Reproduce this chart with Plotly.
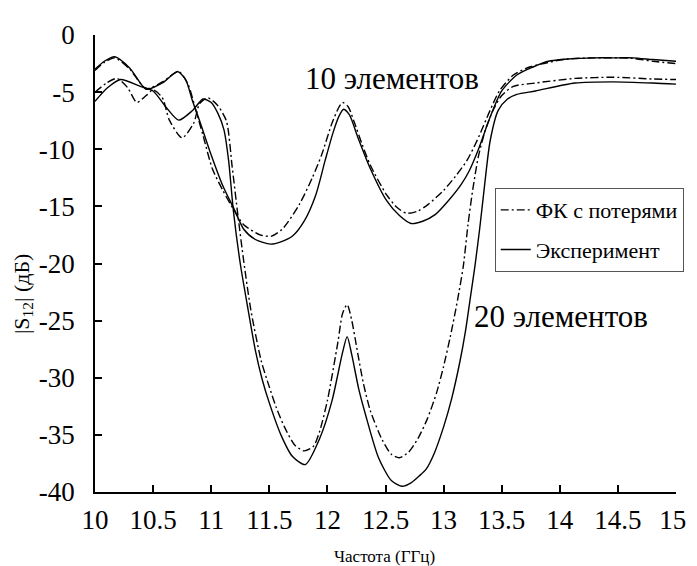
import plotly.graph_objects as go

# ---- data ----
f_d10 = [10.0, 10.08, 10.17, 10.3, 10.44, 10.58, 10.72, 10.8, 10.86, 10.93, 11.01, 11.1, 11.2, 11.28,
         11.42, 11.52, 11.62, 11.76, 11.87, 11.95, 12.04, 12.1, 12.13, 12.18, 12.23, 12.3, 12.37, 12.51,
         12.6, 12.68, 12.78, 12.87, 13.0, 13.1, 13.2, 13.29, 13.4, 13.48, 13.6, 13.74, 13.9, 14.07, 14.3,
         14.5, 14.63, 14.8, 15.0]
db_d10 = [-3.1, -2.4, -2.0, -3.0, -4.7, -4.1, -3.2, -4.3, -6.3, -8.8, -11.7, -13.6, -15.4, -16.6,
          -17.5, -17.6, -16.9, -14.8, -12.5, -10.5, -7.7, -6.3, -5.9, -6.3, -7.6, -9.6, -11.4, -14.0,
          -15.1, -15.6, -15.4, -14.8, -13.6, -12.4, -11.0, -9.2, -6.6, -4.9, -3.5, -2.8, -2.4, -2.1, -2.0,
          -2.0, -2.05, -2.3, -2.5]

f_s10 = [10.0, 10.08, 10.17, 10.3, 10.44, 10.58, 10.71, 10.78, 10.84, 10.9, 11.0, 11.1, 11.2, 11.28,
         11.38, 11.51, 11.6, 11.7, 11.8, 11.9, 11.98, 12.05, 12.1, 12.14, 12.19, 12.26, 12.37, 12.51,
         12.62, 12.72, 12.82, 12.93, 13.05, 13.15, 13.22, 13.3, 13.4, 13.5, 13.63, 13.77, 13.9, 14.07,
         14.3, 14.5, 14.63, 14.8, 15.0]
db_s10 = [-3.0, -2.3, -1.9, -2.9, -4.75, -4.2, -3.2, -3.9, -5.8, -7.5, -10.5, -13.2, -15.3, -17.0,
          -17.9, -18.3, -18.1, -17.6, -16.3, -14.0, -11.0, -8.5, -7.1, -6.5, -7.0, -8.9, -11.7, -14.5,
          -15.8, -16.5, -16.3, -15.7, -14.4, -13.1, -11.9, -10.0, -7.2, -4.9, -3.5, -2.8, -2.3, -2.1,
          -2.0, -2.0, -2.0, -2.15, -2.3]

f_d20 = [10.0, 10.1, 10.19, 10.28, 10.36, 10.44, 10.5, 10.58, 10.64, 10.75, 10.85, 10.9, 10.97, 11.05,
         11.13, 11.18, 11.23, 11.28, 11.34, 11.43, 11.5, 11.56, 11.63, 11.72, 11.8, 11.88, 11.93, 12.0,
         12.09, 12.13, 12.17, 12.21, 12.26, 12.31, 12.37, 12.47, 12.55, 12.62, 12.7, 12.78, 12.86, 12.94,
         13.0, 13.06, 13.12, 13.17, 13.21, 13.25, 13.3, 13.36, 13.43, 13.5, 13.6, 13.79, 14.13, 14.46,
         14.8, 15.0]
db_d20 = [-5.0, -4.2, -3.8, -4.6, -5.9, -5.3, -4.8, -5.5, -7.45, -9.0, -7.7, -6.0, -5.5, -6.1,
          -7.5, -11.5, -15.8, -19.8, -24.0, -28.5, -30.8, -32.6, -34.3, -35.9, -36.4, -36.0, -34.8, -32.0,
          -26.9, -24.4, -23.6, -25.0, -27.8, -30.5, -32.9, -35.4, -36.7, -37.0, -36.5, -35.3, -33.6, -31.3,
          -29.0, -26.3, -23.2, -20.2, -16.6, -13.6, -10.6, -8.3, -6.5, -5.3, -4.5, -4.2, -3.8, -3.7,
          -3.85, -3.9]

f_s20 = [10.0, 10.11, 10.22, 10.39, 10.5, 10.61, 10.72, 10.84, 10.93, 11.0, 11.06, 11.11, 11.15, 11.19,
         11.25, 11.31, 11.38, 11.44, 11.5, 11.6, 11.7, 11.81, 11.93, 12.04, 12.13, 12.17, 12.21, 12.27,
         12.33, 12.44, 12.55, 12.64, 12.72, 12.79, 12.85, 12.92, 13.0, 13.07, 13.14, 13.19, 13.23, 13.27,
         13.31, 13.35, 13.40, 13.47, 13.55, 13.63, 13.79, 14.13, 14.46, 14.8, 15.0]
db_s20 = [-5.8, -4.6, -3.9, -4.5, -4.9, -6.3, -7.45, -6.6, -5.6, -5.9, -6.9, -8.3, -11.0, -15.3,
          -20.0, -23.6, -27.6, -30.2, -32.2, -35.0, -36.9, -37.6, -35.4, -32.0, -27.8, -26.4, -28.0, -31.0,
          -33.3, -37.0, -39.0, -39.5, -39.2, -38.6, -38.0, -36.6, -34.3, -31.8, -28.6, -25.8, -23.0, -20.2,
          -17.0, -13.4, -9.3, -6.6, -5.6, -5.2, -4.9, -4.2, -4.1, -4.2, -4.3]

x_ticks = [10, 10.5, 11, 11.5, 12, 12.5, 13, 13.5, 14, 14.5, 15]
x_ticktext = ["10", "10.5", "11", "11.5", "12", "12.5", "13", "13.5", "14", "14.5", "15\u00a0"]
y_ticks = [0, -5, -10, -15, -20, -25, -30, -35, -40]
y_ticktext = ["0", "-5", "-10", "-15", "-20", "-25", "-30", "-35", "-40"]

name_fk = "ФК с потерями"
name_exp = "Эксперимент"

SERIF = "Liberation Serif, Times New Roman, serif"
DASHDOT = "8px,3px,2px,3px"
LINE_W = 1.4

fig = go.Figure()
fig.add_trace(go.Scatter(x=f_d10, y=db_d10, mode="lines", name=name_fk, legendgroup="fk",
                         line=dict(color="black", width=LINE_W, dash=DASHDOT, shape="spline", smoothing=0.7)))
fig.add_trace(go.Scatter(x=f_s10, y=db_s10, mode="lines", name=name_exp, legendgroup="exp",
                         line=dict(color="black", width=LINE_W, shape="spline", smoothing=0.7)))
fig.add_trace(go.Scatter(x=f_d20, y=db_d20, mode="lines", name=name_fk, legendgroup="fk", showlegend=False,
                         line=dict(color="black", width=LINE_W, dash=DASHDOT, shape="spline", smoothing=0.7)))
fig.add_trace(go.Scatter(x=f_s20, y=db_s20, mode="lines", name=name_exp, legendgroup="exp", showlegend=False,
                         line=dict(color="black", width=LINE_W, shape="spline", smoothing=0.7)))

fig.update_layout(
    width=697, height=566,
    margin=dict(l=87, r=13, t=12, b=82),
    paper_bgcolor="white", plot_bgcolor="white",
    font=dict(family=SERIF, color="black"),
    xaxis=dict(range=[10, 15], tickmode="array", tickvals=x_ticks, ticktext=x_ticktext,
               ticks="inside", ticklen=7, tickwidth=1.5, tickcolor="black",
               showline=True, linecolor="black", linewidth=1.5, showgrid=False, zeroline=False,
               tickfont=dict(family=SERIF, size=27, color="black"), ticklabelstandoff=3,
               ticklabeloverflow="allow"),
    yaxis=dict(range=[-40, 0], tickmode="array", tickvals=y_ticks, ticktext=y_ticktext,
               ticks="inside", ticklen=7, tickwidth=1.5, tickcolor="black",
               showline=True, linecolor="black", linewidth=1.5, showgrid=False, zeroline=False,
               tickfont=dict(family=SERIF, size=27, color="black"), ticklabelstandoff=13,
               ticklabeloverflow="allow"),
    legend=dict(x=0.688, y=0.665, xanchor="left", yanchor="top",
                bgcolor="white", bordercolor="#555555", borderwidth=1,
                font=dict(family=SERIF, size=22, color="black"),
                traceorder="grouped", tracegroupgap=8),
    showlegend=True,
    annotations=[
        dict(text="10 элементов", x=12.56, y=-3.8, xref="x", yref="y", showarrow=False,
             font=dict(family=SERIF, size=31, color="black")),
        dict(text="20 элементов", x=14.01, y=-24.6, xref="x", yref="y", showarrow=False,
             font=dict(family=SERIF, size=31, color="black")),
        dict(text="|S<sub>12</sub>| (дБ)", x=-0.125, y=0.434, xref="paper", yref="paper",
             xanchor="center", yanchor="middle",
             showarrow=False, textangle=-90, font=dict(family=SERIF, size=22, color="black")),
        dict(text="Частота (ГГц)", x=(384 - 87) / 597, y=-(551 - 484) / 472, xref="paper", yref="paper",
             xanchor="center", yanchor="middle",
             showarrow=False, font=dict(family=SERIF, size=17, color="black")),
    ],
)

fig.write_html("out.html")
